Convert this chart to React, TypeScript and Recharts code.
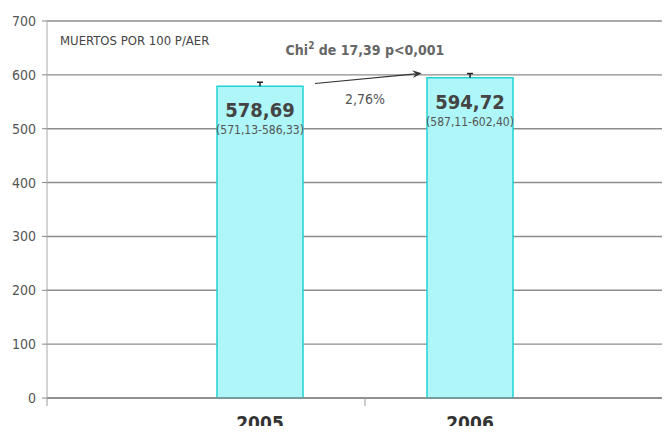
import * as React from "react";
import {
  Bar,
  BarChart,
  CartesianGrid,
  LabelList,
  ReferenceLine,
  XAxis,
  YAxis,
} from "recharts";

const years = ["2005", "2006"];
const rates = [578.69, 594.72];
const ciLow = [571.13, 587.11];
const ciHigh = [586.33, 602.4];
const yTicks = [0, 100, 200, 300, 400, 500, 600, 700];
const unitLabel = "MUERTOS POR 100 P/AER";
const chiLabel = { head: "Chi", sup: "2", tail: " de 17,39 p<0,001" };
const changeLabel = "2,76%";
// arrow between the two bars, in axis units
const arrowFrom = 574.1;
const arrowTo = 611.7;

const FONT = "'DejaVu Sans Condensed', 'Liberation Sans Narrow', Roboto, sans-serif";

const data = years.map((year, i) => ({
  year,
  rate: rates[i],
  low: ciLow[i],
  high: ciHigh[i],
}));

const fmt = (v: number) => v.toFixed(2).replace(".", ",");

function BarValue(props: any) {
  const { x, y, width, height, index } = props;
  const cx = x + width / 2;
  // upper whisker of the confidence interval (lower half sits inside the bar)
  const perUnit = height / rates[index];
  const yHigh = y - (ciHigh[index] - rates[index]) * perUnit;
  return (
    <g fontFamily={FONT}>
      <line x1={cx} x2={cx} y1={y} y2={yHigh} stroke="#222" strokeWidth={1.5} />
      <line x1={cx - 3} x2={cx + 3} y1={yHigh} y2={yHigh} stroke="#222" strokeWidth={1.5} />
      <text x={cx} y={y + 31} textAnchor="middle" fontSize={20} fontWeight="bold" fill="#444">
        {fmt(rates[index])}
      </text>
      <text x={cx} y={y + 48} textAnchor="middle" fontSize={12} fill="#555">
        ({fmt(ciLow[index])}-{fmt(ciHigh[index])})
      </text>
    </g>
  );
}

function YTick(props: any) {
  const { x, y, payload } = props;
  const axisX = x + 11;
  return (
    <g fontFamily={FONT}>
      <line x1={axisX - 5} x2={axisX} y1={y} y2={y} stroke="#888" />
      {payload.value === 0 && <line x1={axisX} x2={axisX} y1={y} y2={y + 8} stroke="#999" />}
      <text x={x} y={y} dy={5} textAnchor="end" fontSize={14} fill="#555">
        {payload.value}
      </text>
    </g>
  );
}

function XTick(props: any) {
  const { x, y, payload, index } = props;
  const axisY = y - 8;
  return (
    <g fontFamily={FONT}>
      {index === 0 && (
        <line
          x1={x + payload.offset}
          x2={x + payload.offset}
          y1={axisY}
          y2={axisY + 8}
          stroke="#999"
        />
      )}
      <text x={x} y={axisY + 32} textAnchor="middle" fontSize={19} fontWeight="bold" fill="#333">
        {payload.value}
      </text>
    </g>
  );
}

function ArrowShape(props: any) {
  const { x1, y1, x2, y2 } = props;
  const t0 = 0.262;
  const t1 = 0.77;
  const sx = x1 + (x2 - x1) * t0;
  const sy = y1 + (y2 - y1) * t0;
  const ex = x1 + (x2 - x1) * t1;
  const ey = y1 + (y2 - y1) * t1;
  const mx = (x1 + x2) / 2;
  const my = (y1 + y2) / 2;
  const ang = Math.atan2(ey - sy, ex - sx);
  const head = 10;
  const p1x = ex - head * Math.cos(ang - 0.4);
  const p1y = ey - head * Math.sin(ang - 0.4);
  const p2x = ex - head * Math.cos(ang + 0.4);
  const p2y = ey - head * Math.sin(ang + 0.4);
  const bx = ex - head * 0.6 * Math.cos(ang);
  const by = ey - head * 0.6 * Math.sin(ang);
  return (
    <g fontFamily={FONT}>
      <line x1={sx} y1={sy} x2={bx} y2={by} stroke="#333" strokeWidth={1.2} />
      <path d={`M${ex},${ey} L${p1x},${p1y} L${bx},${by} L${p2x},${p2y} Z`} fill="#333" />
      <text x={mx} y={my - 24} textAnchor="middle" fontSize={14} fontWeight="bold" fill="#666">
        {chiLabel.head}
        <tspan fontSize={10} dy={-6}>
          {chiLabel.sup}
        </tspan>
        <tspan dy={6}>{chiLabel.tail}</tspan>
      </text>
      <text x={mx} y={my + 25} textAnchor="middle" fontSize={14} fill="#555">
        {changeLabel}
      </text>
    </g>
  );
}

export default function App() {
  return (
    <div
      style={{
        position: "relative",
        width: 670,
        height: 434,
        margin: -8,
        background: "#fff",
        overflow: "hidden",
      }}
    >
      <BarChart
        width={670}
        height={434}
        data={data}
        margin={{ top: 21, right: 0, bottom: 0, left: 0 }}
        barSize={86}
      >
        <CartesianGrid horizontal vertical={false} stroke="#8c8c8c" strokeWidth={1.4} />
        <XAxis
          dataKey="year"
          padding={{ left: 108, right: 95 }}
          axisLine={{ stroke: "#888", strokeWidth: 1.4 }}
          tickLine={false}
          tick={<XTick />}
          height={36}
        />
        <YAxis
          domain={[0, 700]}
          ticks={yTicks}
          width={47}
          axisLine={{ stroke: "#aaa" }}
          tickLine={false}
          tickSize={5}
          tickMargin={6}
          tick={<YTick />}
        />
        <Bar dataKey="rate" fill="#aef6f8" stroke="#1fd3d5" strokeWidth={1.5} isAnimationActive={false}>
          <LabelList dataKey="rate" content={<BarValue />} />
        </Bar>
        <ReferenceLine
          segment={[
            { x: years[0], y: arrowFrom },
            { x: years[1], y: arrowTo },
          ]}
          shape={<ArrowShape />}
        />
      </BarChart>
      <div
        style={{
          position: "absolute",
          left: 60,
          top: 33,
          fontFamily: FONT,
          fontSize: 13,
          color: "#444",
        }}
      >
        {unitLabel}
      </div>
    </div>
  );
}
